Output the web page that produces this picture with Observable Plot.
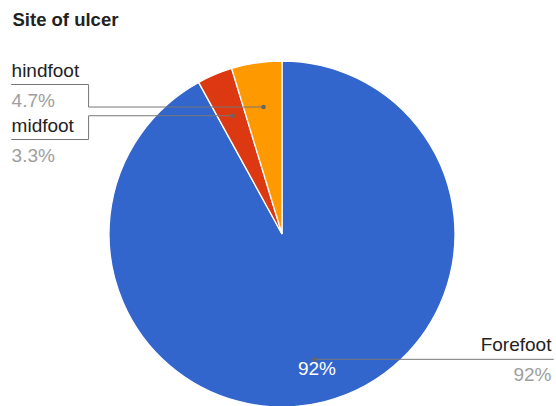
<!DOCTYPE html>
<html><head><meta charset="utf-8">
<script src="https://cdn.jsdelivr.net/npm/d3@7"></script>
<script src="https://cdn.jsdelivr.net/npm/@observablehq/plot@0.6"></script>
<style>body{margin:0;background:#fff;overflow:hidden}</style>
</head><body><div id="chart"></div>
<script>
const title = "Site of ulcer";
const categories = ["Forefoot", "midfoot", "hindfoot"];
const values = [92, 3.3, 4.7];
const percentLabels = ["92%", "3.3%", "4.7%"];
const colors = ["#3366cc", "#dc3912", "#ff9900"];

// layout (in pie-radius units)
const layout = {
  dotRadius: 0.745,
  innerTextRadius: 0.8,
  labelEdge: 1.566,
  elbow: 1.121,
  leftLevels: {hindfoot: 0.867, midfoot: 0.549},
  innerTextMin: 10
};

const rows = categories.map((c, i) => ({name: c, value: values[i], pct: percentLabels[i], color: colors[i]}));
const slices = d3.pie().sort(null).value(d => d.value)(rows);

const labels = slices.map(s => {
  const a = (s.startAngle + s.endAngle) / 2;
  const dx = Math.sin(a) * layout.dotRadius, dy = Math.cos(a) * layout.dotRadius;
  const ix = Math.sin(a) * layout.innerTextRadius, iy = Math.cos(a) * layout.innerTextRadius;
  const left = dx < 0;
  const ly = left ? layout.leftLevels[s.data.name] : dy;
  const lx = left ? -layout.labelEdge : layout.labelEdge;
  const path = left
    ? [[lx, ly], [-layout.elbow, ly], [-layout.elbow, dy], [dx, dy]]
    : [[dx, dy], [lx, dy]];
  return {name: s.data.name, pct: s.data.pct, value: s.data.value, dx, dy, ix, iy, lx, ly, left, path};
});
const linePts = labels.flatMap(l => l.path.map(([x, y]) => ({name: l.name, x, y})));
const leftLabels = labels.filter(l => l.left);
const rightLabels = labels.filter(l => !l.left);

function pieMark(index, scales) {
  const cx = scales.x(0), cy = scales.y(0), r = scales.x(1) - scales.x(0);
  const g = d3.create("svg:g").attr("transform", `translate(${cx},${cy})`);
  const arc = d3.arc().innerRadius(0).outerRadius(r);
  g.selectAll("path").data(slices).join("path")
    .attr("d", arc)
    .attr("fill", d => d.data.color)
    .attr("stroke", "#fff")
    .attr("stroke-width", 1.3);
  return g.node();
}

function labelMarks(data, anchor, shift) {
  return [
    Plot.text(data, {x: "lx", y: "ly", text: "name", textAnchor: anchor, lineAnchor: "bottom", dx: shift, dy: -8, fontSize: 19, fill: "#222"}),
    Plot.text(data, {x: "lx", y: "ly", text: "pct", textAnchor: anchor, lineAnchor: "bottom", dx: shift, dy: 22, fontSize: 19, fill: "#9e9e9e"})
  ];
}

const font = "Arial, 'Liberation Sans', sans-serif";
const chart = Plot.plot({
  width: 556,
  height: 406,
  margin: 0,
  style: {fontFamily: font, background: "#fff"},
  x: {domain: [-1, 1], range: [109, 455], axis: null},
  y: {domain: [1, -1], range: [61, 407], axis: null},
  marks: [
    pieMark,
    Plot.line(linePts, {x: "x", y: "y", z: "name", stroke: "#777", strokeWidth: 1}),
    Plot.dot(labels, {x: "dx", y: "dy", r: 2.3, fill: "#666", stroke: null}),
    ...labelMarks(leftLabels, "start", 0),
    ...labelMarks(rightLabels, "end", -2),
    Plot.text(labels.filter(l => l.value >= layout.innerTextMin), {x: "ix", y: "iy", text: "pct", textAnchor: "middle", lineAnchor: "middle", fontSize: 19, fill: "#fff"}),
    Plot.text([title], {frameAnchor: "top-left", lineAnchor: "bottom", dx: 12, dy: 25, fontSize: 18.5, fontWeight: "bold", fill: "#222"})
  ]
});
document.getElementById("chart").append(chart);
</script>
</body></html>
